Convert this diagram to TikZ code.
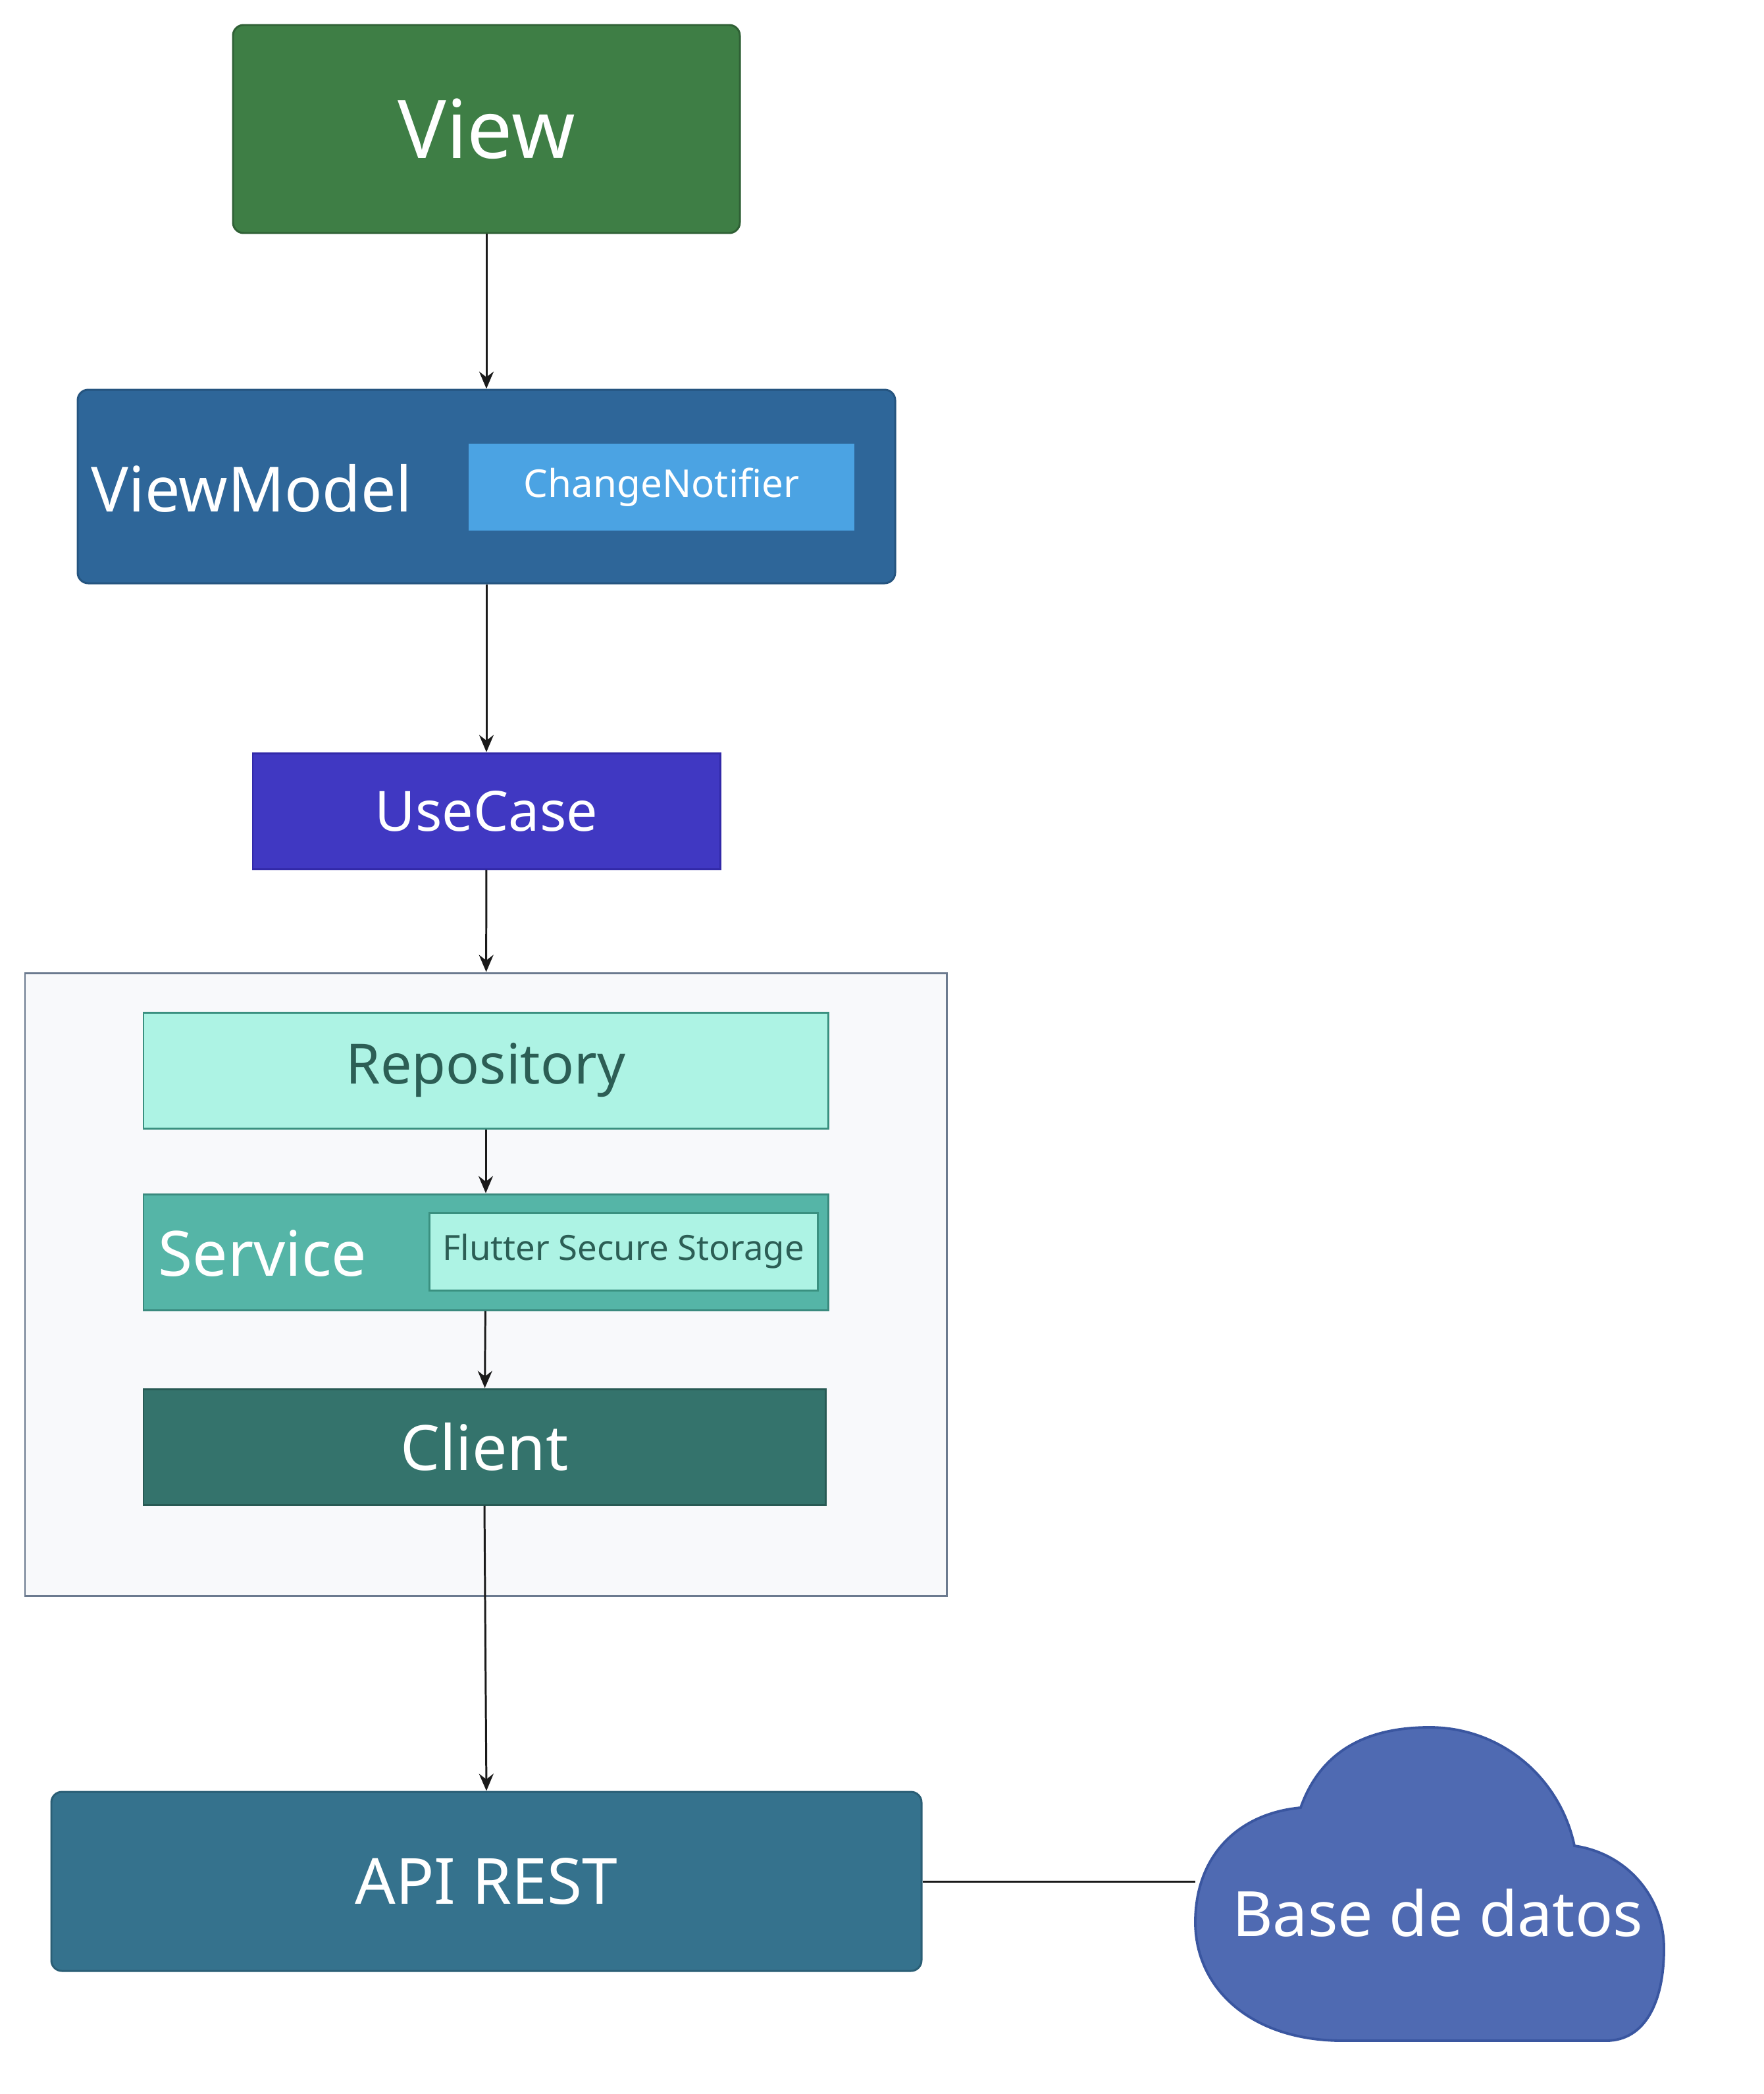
\documentclass[tikz,border=0pt]{standalone}
\usepackage{fontspec}
\setmainfont{Noto Sans}
\usepackage{tikz}
\usetikzlibrary{arrows.meta}

\definecolor{viewfill}{HTML}{3E7E45}
\definecolor{viewline}{HTML}{2F6035}
\definecolor{vmfill}{HTML}{2E6699}
\definecolor{vmline}{HTML}{25547F}
\definecolor{notifierfill}{HTML}{4BA3E3}
\definecolor{usecasefill}{HTML}{4038C2}
\definecolor{usecaseline}{HTML}{3229A8}
\definecolor{layerfill}{HTML}{F8F9FB}
\definecolor{layerline}{HTML}{6B7A8F}
\definecolor{mintfill}{HTML}{ADF3E4}
\definecolor{mintline}{HTML}{3A9080}
\definecolor{minttext}{HTML}{2C5E55}
\definecolor{servicefill}{HTML}{55B5A7}
\definecolor{serviceline}{HTML}{3A8A7E}
\definecolor{clientfill}{HTML}{34736C}
\definecolor{clientline}{HTML}{285A54}
\definecolor{apifill}{HTML}{35728D}
\definecolor{apiline}{HTML}{2A5E75}
\definecolor{cloudfill}{HTML}{4F6AB2}
\definecolor{cloudline}{HTML}{3A56A0}
\definecolor{edgecol}{HTML}{1A1A1A}

\begin{document}
\begin{tikzpicture}[x=1cm, y=-1cm]
    \tikzstyle{layerbox} = [rectangle, draw, line width=0.85pt, inner sep=0pt, text=white]
    \tikzstyle{roundbox} = [layerbox, rounded corners=1.6mm]
    \tikzstyle{boxlabel} = [anchor=west, inner sep=0pt, text=white, font=\fontsize{27}{32}\selectfont]
    \tikzstyle{flow} = [draw=edgecol, line width=0.85pt, -{Stealth[length=2.6mm, width=2.2mm]}]

    \useasboundingbox (0,0) rectangle (26.8,31.81);

    % Presentation
    \node[roundbox, fill=viewfill, draw=viewline, minimum width=7.70cm, minimum height=3.16cm,
          font=\fontsize{35}{42}\selectfont] (view) at (7.39,1.96) {View};
    \node[roundbox, fill=vmfill, draw=vmline, minimum width=12.42cm, minimum height=2.94cm] (vm) at (7.39,7.39) {};
    \node[boxlabel] (vmlabel) at (1.38,7.42) {ViewModel};
    \node[rectangle, fill=notifierfill, inner sep=0pt, minimum width=5.86cm, minimum height=1.32cm, text=white,
          font=\fontsize{16.6}{20}\selectfont] (notifier) at (10.05,7.40) {ChangeNotifier};

    % Domain
    \node[layerbox, fill=usecasefill, draw=usecaseline, minimum width=7.10cm, minimum height=1.76cm,
          font=\fontsize{24}{29}\selectfont] (usecase) at (7.39,12.32) {UseCase};

    % Data layer
    \node[rectangle, draw=layerline, fill=layerfill, line width=0.85pt, minimum width=14.00cm, minimum height=9.46cm,
          inner sep=0pt] (layer) at (7.38,19.51) {};
    \node[layerbox, fill=mintfill, draw=mintline, text=minttext, minimum width=10.40cm, minimum height=1.76cm,
          font=\fontsize{24}{29}\selectfont] (repo) at (7.38,16.26) {Repository};
    \node[layerbox, fill=servicefill, draw=serviceline, minimum width=10.40cm, minimum height=1.76cm] (service) at (7.38,19.02) {};
    \node[boxlabel] (servicelabel) at (2.40,19.04) {Service};
    \node[layerbox, fill=mintfill, draw=mintline, text=minttext, minimum width=5.90cm, minimum height=1.18cm,
          font=\fontsize{15}{18}\selectfont] (storage) at (9.47,19.01) {Flutter Secure Storage};
    \node[layerbox, fill=clientfill, draw=clientline, minimum width=10.36cm, minimum height=1.76cm,
          font=\fontsize{27}{32}\selectfont] (client) at (7.36,21.98) {Client};

    % Backend
    \node[roundbox, fill=apifill, draw=apiline, minimum width=13.22cm, minimum height=2.72cm,
          font=\fontsize{27.5}{33}\selectfont] (api) at (7.39,28.58) {API REST};

    % Cloud
    \draw[fill=cloudfill, draw=cloudline, line width=1.1pt]
        (20.40,31.00) .. controls (19.00,31.00) and (18.16,30.20) .. (18.16,29.20)
        .. controls (18.16,28.20) and (18.80,27.55) .. (19.76,27.46)
        .. controls (20.10,26.50) and (20.90,26.24) .. (21.72,26.24)
        .. controls (22.80,26.24) and (23.70,27.00) .. (23.92,28.04)
        .. controls (24.70,28.15) and (25.28,28.80) .. (25.28,29.60)
        .. controls (25.28,30.40) and (25.00,31.00) .. (24.40,31.00) -- cycle;
    \node[text=white, font=\fontsize{27}{32}\selectfont] (db) at (21.84,29.06) {Base de datos};
    \coordinate (dbedge) at (18.16,28.58);

    % Connectors
    \draw[flow] (view) -- (vm);
    \draw[flow] (vm) -- (usecase);
    \draw[flow] (usecase) -- (layer);
    \draw[flow] (repo) -- (service);
    \draw[flow] (service) -- (client);
    \draw[flow] (client.south) -- (api.north);
    \draw[draw=edgecol, line width=0.85pt] (api.east) -- (dbedge);

\end{tikzpicture}
\end{document}
